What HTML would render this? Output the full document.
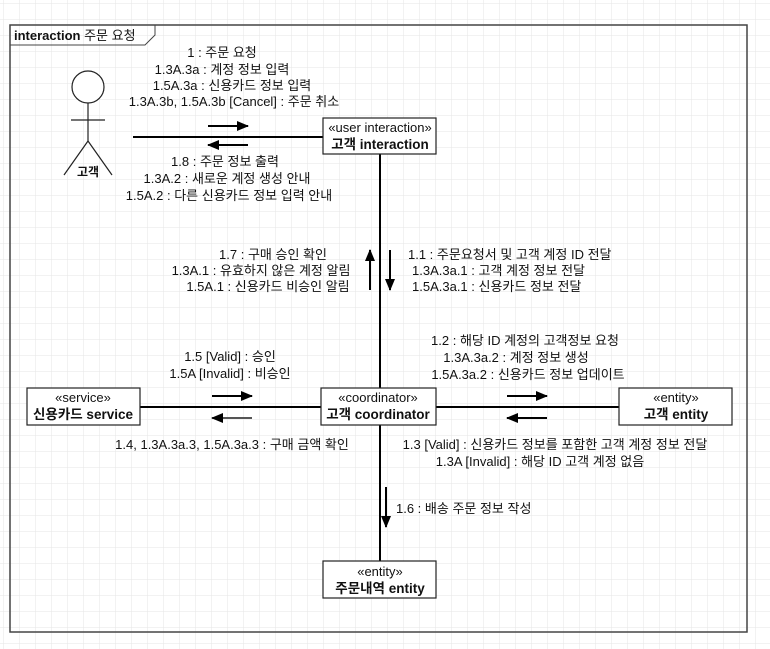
<!DOCTYPE html>
<html><head><meta charset="utf-8"><style>
html,body{margin:0;padding:0;background:#fff;}
svg{display:block;}
text{font-family:"Liberation Sans","Noto Sans CJK KR",sans-serif;font-size:13px;fill:#111;}
.b{font-weight:bold;font-size:13.5px;}
</style></head><body>
<svg width="770" height="649" xmlns="http://www.w3.org/2000/svg">
<defs>
<pattern id="g" width="16" height="16" patternUnits="userSpaceOnUse" x="4" y="4">
<path d="M16 0V16H0" fill="none" stroke="#e6e6e6" stroke-width="1"/>
</pattern>
<marker id="ah" markerWidth="12" markerHeight="10" refX="11" refY="5" orient="auto" markerUnits="userSpaceOnUse">
<path d="M0,0 L12,5 L0,10 z" fill="#000"/>
</marker>
</defs>
<rect width="770" height="649" fill="url(#g)"/>
<rect x="10" y="25" width="737" height="607" fill="none" stroke="#444" stroke-width="1.5"/>
<path d="M10,45 H145 L155,35 V25" fill="none" stroke="#444" stroke-width="1"/>
<text x="14" y="40" style="font-size:13px"><tspan style="font-weight:bold">interaction</tspan> 주문 요청</text>
<circle cx="88" cy="87" r="16" fill="#fff" stroke="#222" stroke-width="1.2"/>
<line x1="88" y1="103" x2="88" y2="141" stroke="#222" stroke-width="1.2"/>
<line x1="71" y1="120" x2="105" y2="120" stroke="#222" stroke-width="1.2"/>
<line x1="88" y1="141" x2="64" y2="175" stroke="#222" stroke-width="1.2"/>
<line x1="88" y1="141" x2="112" y2="175" stroke="#222" stroke-width="1.2"/>
<text x="88" y="176" text-anchor="middle" style="font-weight:bold;font-size:12px">고객</text>
<line x1="133" y1="137" x2="323" y2="137" stroke="#000" stroke-width="2"/>
<line x1="380" y1="154" x2="380" y2="562" stroke="#000" stroke-width="2"/>
<line x1="139" y1="407" x2="620" y2="407" stroke="#000" stroke-width="2"/>
<line x1="208" y1="126" x2="248" y2="126" stroke="#000" stroke-width="2" marker-end="url(#ah)"/>
<line x1="248" y1="145" x2="208" y2="145" stroke="#000" stroke-width="2" marker-end="url(#ah)"/>
<line x1="370" y1="290" x2="370" y2="250" stroke="#000" stroke-width="2" marker-end="url(#ah)"/>
<line x1="390" y1="250" x2="390" y2="290" stroke="#000" stroke-width="2" marker-end="url(#ah)"/>
<line x1="212" y1="396" x2="252" y2="396" stroke="#000" stroke-width="2" marker-end="url(#ah)"/>
<line x1="252" y1="418" x2="212" y2="418" stroke="#555" stroke-width="2" marker-end="url(#ah)"/>
<line x1="507" y1="396" x2="547" y2="396" stroke="#000" stroke-width="2" marker-end="url(#ah)"/>
<line x1="547" y1="418" x2="507" y2="418" stroke="#000" stroke-width="2" marker-end="url(#ah)"/>
<line x1="386" y1="487" x2="386" y2="527" stroke="#000" stroke-width="2" marker-end="url(#ah)"/>
<rect x="323" y="118" width="113" height="36" fill="#fff" stroke="#222" stroke-width="1.2"/>
<text x="380" y="132" text-anchor="middle">«user interaction»</text>
<text x="380" y="149" text-anchor="middle" class="b">고객 interaction</text>
<rect x="321" y="388" width="115" height="37" fill="#fff" stroke="#222" stroke-width="1.2"/>
<text x="378" y="402" text-anchor="middle">«coordinator»</text>
<text x="378" y="419" text-anchor="middle" class="b">고객 coordinator</text>
<rect x="27" y="388" width="113" height="37" fill="#fff" stroke="#222" stroke-width="1.2"/>
<text x="83" y="402" text-anchor="middle">«service»</text>
<text x="83" y="419" text-anchor="middle" class="b">신용카드 service</text>
<rect x="619" y="388" width="113" height="37" fill="#fff" stroke="#222" stroke-width="1.2"/>
<text x="676" y="402" text-anchor="middle">«entity»</text>
<text x="676" y="419" text-anchor="middle" class="b">고객 entity</text>
<rect x="323" y="561" width="113" height="37" fill="#fff" stroke="#222" stroke-width="1.2"/>
<text x="380" y="576" text-anchor="middle">«entity»</text>
<text x="380" y="593" text-anchor="middle" class="b">주문내역 entity</text>
<g text-anchor="middle">
<text x="222" y="57">1 : 주문 요청</text>
<text x="222" y="74">1.3A.3a : 계정 정보 입력</text>
<text x="232" y="90">1.5A.3a : 신용카드 정보 입력</text>
<text x="234" y="106">1.3A.3b, 1.5A.3b [Cancel] : 주문 취소</text>
<text x="225" y="166">1.8 : 주문 정보 출력</text>
<text x="227" y="183">1.3A.2 : 새로운 계정 생성 안내</text>
<text x="229" y="200">1.5A.2 : 다른 신용카드 정보 입력 안내</text>
<text x="273" y="259">1.7 : 구매 승인 확인</text>
<text x="261" y="275">1.3A.1 : 유효하지 않은 계정 알림</text>
<text x="268" y="291">1.5A.1 : 신용카드 비승인 알림</text>
<text x="230" y="361">1.5 [Valid] : 승인</text>
<text x="230" y="378">1.5A [Invalid] : 비승인</text>
<text x="232" y="449">1.4, 1.3A.3a.3, 1.5A.3a.3 : 구매 금액 확인</text>
<text x="525" y="345">1.2 : 해당 ID 계정의 고객정보 요청</text>
<text x="516" y="362">1.3A.3a.2 : 계정 정보 생성</text>
<text x="528" y="379">1.5A.3a.2 : 신용카드 정보 업데이트</text>
<text x="555" y="449">1.3 [Valid] : 신용카드 정보를 포함한 고객 계정 정보 전달</text>
<text x="540" y="466">1.3A [Invalid] : 해당 ID 고객 계정 없음</text>
</g>
<text x="408" y="259">1.1 : 주문요청서 및 고객 계정 ID 전달</text>
<text x="412" y="275">1.3A.3a.1 : 고객 계정 정보 전달</text>
<text x="412" y="291">1.5A.3a.1 : 신용카드 정보 전달</text>
<text x="396" y="513">1.6 : 배송 주문 정보 작성</text>
</svg>
</body></html>
